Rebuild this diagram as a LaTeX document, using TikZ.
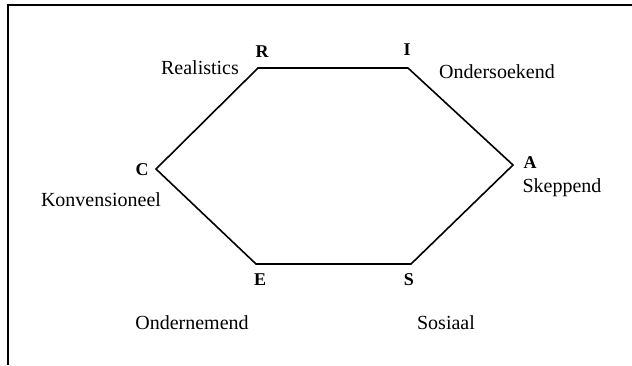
\documentclass[tikz,border=0pt]{standalone}
\usepackage{fontspec}
\setmainfont{Liberation Serif}
\usetikzlibrary{positioning}

\begin{document}
\begin{tikzpicture}[x=0.5pt,y=-0.5pt,
  corner/.style={font=\small\bfseries,inner sep=1pt},
  typelbl/.style={font=\normalsize,inner sep=1pt},
  edge/.style={line width=0.8pt,line join=miter},
  frame/.style={line width=1pt}
]
  \useasboundingbox (0,0) rectangle (632,365);

  % Frame (top and left)
  \coordinate (ftr) at (632,5);
  \coordinate (ftl) at (8,5);
  \coordinate (fbl) at (8,365);
  \draw[frame] (ftr) -- (ftl) -- (fbl);

  % Hexagon corners
  \coordinate (r) at (258,68);
  \coordinate (i) at (408,68);
  \coordinate (a) at (513,165);
  \coordinate (s) at (411,264);
  \coordinate (e) at (256,264);
  \coordinate (c) at (156,169);
  \draw[edge] (r) -- (i) -- (a) -- (s) -- (e) -- (c) -- cycle;

  % Letters
  \node[corner] (rl) at (262,52) {R};
  \node[corner] (il) at (407,50) {I};
  \node[corner] (al) at (530,163) {A};
  \node[corner] (sl) at (409,280) {S};
  \node[corner] (el) at (260,280) {E};
  \node[corner] (cl) at (142,170) {C};

  % Type names
  \node[typelbl] (realistic) at (200,68) {Realistics};
  \node[typelbl] (investig) at (497,72) {Ondersoekend};
  \node[typelbl] (artistic) at (562,188) {Skeppend};
  \node[typelbl] (social) at (446,323) {Sosiaal};
  \node[typelbl] (enterpr) at (192,323) {Ondernemend};
  \node[typelbl] (convent) at (101,200) {Konvensioneel};
\end{tikzpicture}
\end{document}
